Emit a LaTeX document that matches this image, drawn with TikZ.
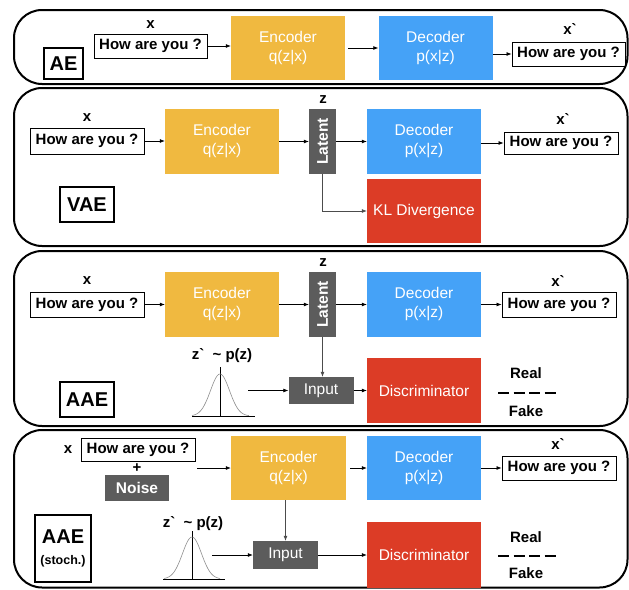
\documentclass[tikz,border=0pt]{standalone}
\usepackage{fontspec}
\usepackage{graphicx}
\setmainfont{Liberation Sans}[Ligatures=TeXOff]
\usetikzlibrary{arrows.meta}
\definecolor{encC}{HTML}{F0B940}
\definecolor{decC}{HTML}{45A2F7}
\definecolor{discC}{HTML}{DC3C26}
\definecolor{darkC}{HTML}{5C5C5C}
\tikzset{
 panel/.style={draw=black, line width=2pt, rounded corners=28pt},
 blk/.style={minimum width=114pt, minimum height=64pt, text=white, inner sep=0pt, font=\fontsize{15.5}{19}\selectfont, align=center},
 enc/.style={blk, fill=encC},
 dec/.style={blk, fill=decC},
 disc/.style={blk, fill=discC},
 dark/.style={fill=darkC, text=white, inner sep=0pt, font=\fontsize{15.5}{19}\selectfont},
 sent/.style={draw, line width=0.9pt, minimum width=114pt, minimum height=24pt, inner sep=0pt, font=\bfseries\fontsize{15}{18}\selectfont},
 lbl/.style={inner sep=0pt, font=\bfseries\fontsize{15}{18}\selectfont},
 tag/.style={draw, line width=1.6pt, inner sep=0pt, font=\bfseries\fontsize{20}{24}\selectfont, align=center},
 arr/.style={-{Latex[length=5pt,width=4pt]}, line width=0.7pt},
 gauss/.style={black!45, line width=0.6pt},
 axisl/.style={black, line width=0.7pt},
 rf/.style={black, line width=1.8pt, dash pattern=on 11pt off 4.5pt}
}
\begin{document}
\begin{tikzpicture}[x=1pt,y=-1pt]
\useasboundingbox (0,0) rectangle (629,589);
% panels
\draw[panel] (14,10) rectangle (627.5,84);
\draw[panel] (14,88) rectangle (627.5,246);
\draw[panel] (14,251) rectangle (627.5,426);
\draw[panel] (14,430) rectangle (627.5,587.5);

% ---------- AE ----------
\node[sent, minimum width=113pt] (in1) at (150.5,46) {How are you ?};
\node[lbl] (x1) at (150.5,25) {x};
\node[enc] (enc1) at (288,48) {Encoder\\q(z|x)};
\node[dec] (dec1) at (435.5,48) {Decoder\\p(x|z)};
\node[sent, minimum width=113pt] (out1) at (568.5,54) {How are you ?};
\node[lbl] (xp1) at (570,29) {x`};
\node[tag, minimum width=39pt, minimum height=31pt] (tag1) at (63.5,63.5) {AE};
\draw[arr] (in1.east) -- (in1.east -| enc1.west);
\draw[arr] (enc1.east) ++(3,0) coordinate (e1) (e1) -- (dec1.west);
\draw[arr] (dec1.east |- out1.west) -- (out1.west);

% ---------- VAE ----------
\node[sent, minimum height=26pt] (in2) at (87,141) {How are you ?};
\node[lbl] (x2) at (87,118) {x};
\node[enc, minimum height=65pt] (enc2) at (222,141.5) {Encoder\\q(z|x)};
\node[dark, minimum width=27pt, minimum height=65pt] (lat2) at (322.5,141.5) {\rotatebox{90}{\bfseries Latent}};
\node[lbl] (z2) at (323,100) {z};
\node[dec, minimum height=65pt] (dec2) at (424,141.5) {Decoder\\p(x|z)};
\node[sent, minimum height=22pt] (out2) at (561,143) {How are you ?};
\node[lbl] (xp2) at (563,119) {x`};
\node[disc] (kl2) at (424,211) {KL Divergence};
\node[tag, minimum width=54pt, minimum height=35pt] (tag2) at (87,204.5) {VAE};
\draw[arr] (in2.east) -- (in2.east -| enc2.west);
\draw[arr] (enc2.east) -- (lat2.west);
\draw[arr] (lat2.east) -- (dec2.west);
\draw[arr] (dec2.east |- out2.west) -- (out2.west);
\draw[arr, draw=black!70] (lat2.south) |- (kl2.west);

% ---------- AAE ----------
\node[sent, minimum height=25pt] (in3) at (87,304.5) {How are you ?};
\node[lbl] (x3) at (87,281) {x};
\node[enc, minimum height=65pt] (enc3) at (222,304.5) {Encoder\\q(z|x)};
\node[dark, minimum width=27pt, minimum height=65pt] (lat3) at (322.5,304.5) {\rotatebox{90}{\bfseries Latent}};
\node[lbl] (z3) at (323,263) {z};
\node[dec, minimum height=65pt] (dec3) at (424,304.5) {Decoder\\p(x|z)};
\node[sent, minimum height=25pt] (out3) at (559,304.5) {How are you ?};
\node[lbl] (xp3) at (558,281) {x`};
\node[dark, minimum width=65pt, minimum height=27pt] (inp3) at (321,390.5) {Input};
\node[disc, minimum height=65pt] (disc3) at (424,390.5) {Discriminator};
\node[lbl] (real3) at (526,373) {Real};
\node[lbl] (fake3) at (526,411) {Fake};
\coordinate (d3a) at (498,393);
\coordinate (d3b) at (556,393);
\draw[rf] (d3a) -- (d3b);
\node[lbl] (zp3) at (222,356) {z`\ \ \textasciitilde\ p(z)};
\coordinate (g3a) at (192,416);
\coordinate (g3b) at (255,416);
\coordinate (g3t) at (220,367);
\draw[axisl] (g3a) -- (g3b);
\draw[axisl] (g3t) -- (g3t |- g3a);
\draw[gauss] plot[domain=192:249, samples=60, smooth] (\x, {416-42*exp(-((\x-220)/9.5)^2/2)});
\coordinate (ga3) at (248,390.5);
\node[tag, minimum width=54pt, minimum height=35pt] (tag3) at (87,399.5) {AAE};
\draw[arr] (in3.east) -- (in3.east -| enc3.west);
\draw[arr] (enc3.east) -- (lat3.west);
\draw[arr] (lat3.east) -- (dec3.west);
\draw[arr] (dec3.east) -- (out3.west);
\draw[arr, draw=black!70] (lat3.south) -- (lat3.south |- inp3.north);
\draw[arr] (inp3.east) -- (disc3.west);
\draw[arr] (ga3 |- inp3.west) -- (inp3.west);

% ---------- AAE (stoch.) ----------
\node[sent, minimum height=23pt] (in4) at (138,449.5) {How are you ?};
\node[lbl] (x4) at (68,450) {x};
\node[lbl] (plus4) at (137,468) {+};
\node[dark, minimum width=64pt, minimum height=26pt, font=\bfseries\fontsize{15.5}{19}\selectfont] (noise4) at (137,488) {Noise};
\node[enc, minimum width=115pt] (enc4) at (288.5,468) {Encoder\\q(z|x)};
\node[dec] (dec4) at (424,468) {Decoder\\p(x|z)};
\node[sent, minimum height=24pt] (out4) at (559,468) {How are you ?};
\node[lbl] (xp4) at (558,444) {x`};
\node[dark, minimum width=65pt, minimum height=28pt] (inp4) at (285.5,555) {Input};
\node[disc, minimum height=66pt] (disc4) at (424,555) {Discriminator};
\node[lbl] (real4) at (526,537) {Real};
\node[lbl] (fake4) at (526,573) {Fake};
\coordinate (d4a) at (498,556);
\coordinate (d4b) at (556,556);
\draw[rf] (d4a) -- (d4b);
\node[lbl] (zp4) at (193,524) {z`\ \ \textasciitilde\ p(z)};
\coordinate (g4a) at (163,579);
\coordinate (g4b) at (225,579);
\coordinate (g4t) at (192,531);
\draw[axisl] (g4a) -- (g4b);
\draw[axisl] (g4t) -- (g4t |- g4a);
\draw[gauss] plot[domain=164:220, samples=60, smooth] (\x, {579-42*exp(-((\x-192)/9.5)^2/2)});
\coordinate (ga4) at (212,555);
\coordinate (n4) at (197,468);
\node[tag, minimum width=56pt, minimum height=67pt] (tag4) at (63,548.5) {AAE\\[-3pt]{\fontsize{12.5}{14}\selectfont (stoch.)}};
\draw[arr] (n4) -- (enc4.west);
\draw[arr] (enc4.east) ++(4,0) coordinate (e4) (e4) -- (dec4.west);
\draw[arr] (dec4.east) -- (out4.west);
\draw[arr, draw=black!70] (enc4.south -| inp4.north) -- (inp4.north);
\draw[arr] (inp4.east) -- (disc4.west);
\draw[arr] (ga4 |- inp4.west) -- (inp4.west);
\end{tikzpicture}
\end{document}
